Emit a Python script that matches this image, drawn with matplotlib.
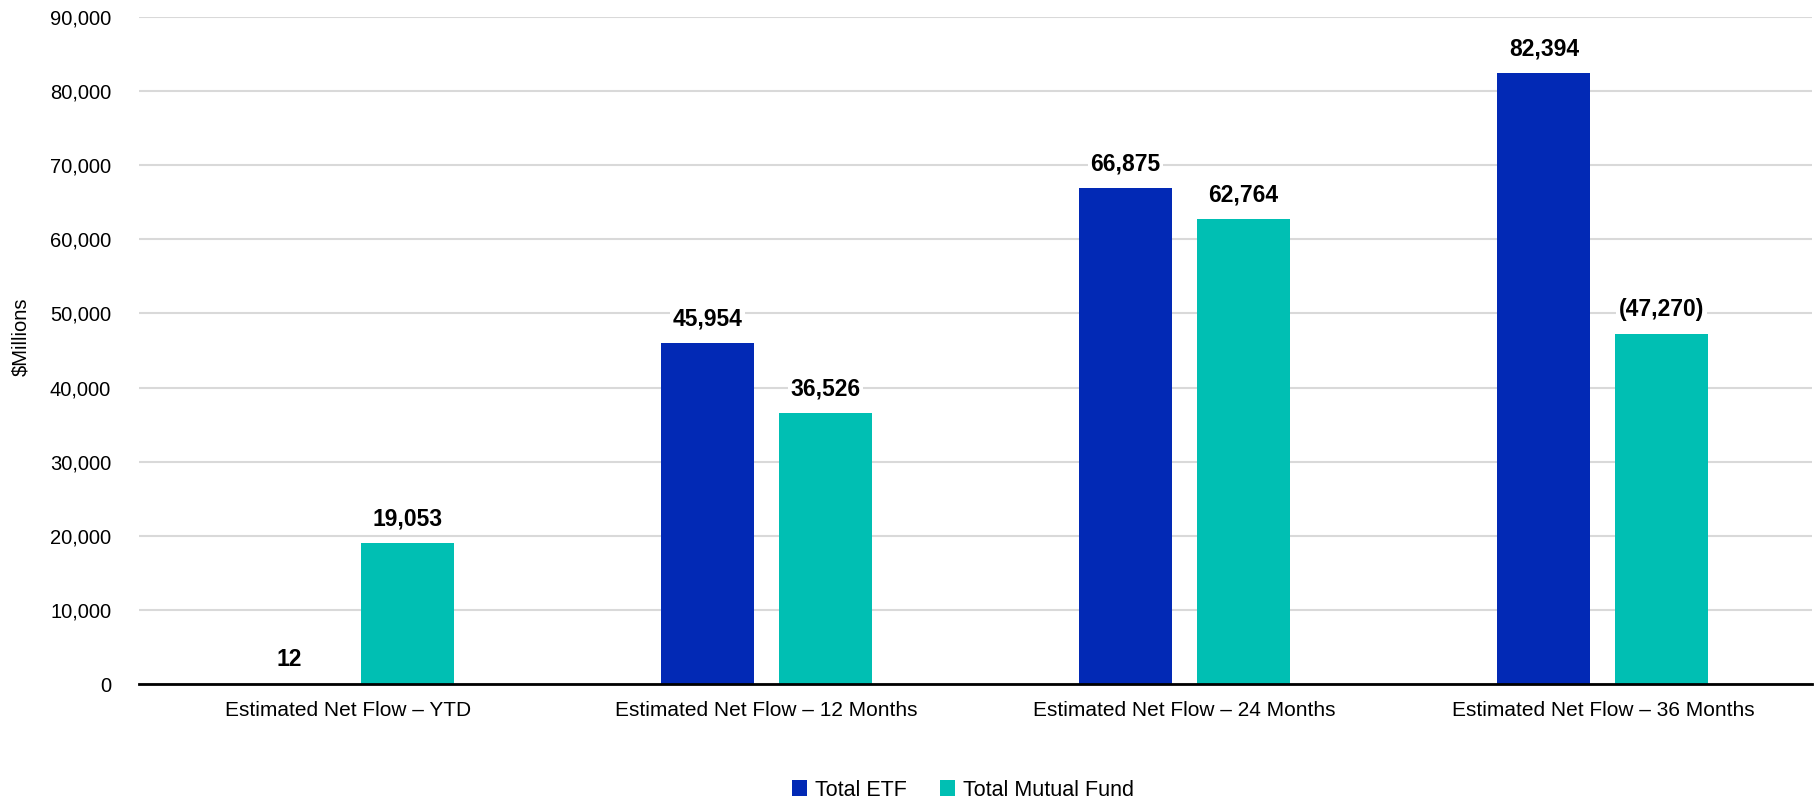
import numpy as np
import matplotlib.pyplot as plt
from matplotlib.ticker import FuncFormatter

plt.rcParams['font.family'] = ['Liberation Sans', 'DejaVu Sans']

# data
categories = ["Estimated Net Flow \u2013 YTD", "Estimated Net Flow \u2013 12 Months",
              "Estimated Net Flow \u2013 24 Months", "Estimated Net Flow \u2013 36 Months"]
etf_vals = [12, 45954, 66875, 82394]
mf_vals = [19053, 36526, 62764, 47270]
etf_labels = ["12", "45,954", "66,875", "82,394"]
mf_labels = ["19,053", "36,526", "62,764", "(47,270)"]

etf_color = "#0229B5"
mf_color = "#00BFB3"

fig = plt.figure(figsize=(18.19, 8.01), dpi=100)
ax = fig.add_axes([139 / 1819, 1 - 684 / 801, (1812 - 139) / 1819, (684 - 17) / 801])

x = np.arange(len(categories))
w = 0.222
off = 0.141
b1 = ax.bar(x - off, etf_vals, w, color=etf_color, label="Total ETF", zorder=2)
b2 = ax.bar(x + off, mf_vals, w, color=mf_color, label="Total Mutual Fund", zorder=2)

# value labels above each bar
for bars, labs in ((b1, etf_labels), (b2, mf_labels)):
    for rect, lab in zip(bars, labs):
        ax.annotate(lab, (rect.get_x() + rect.get_width() / 2, rect.get_height()),
                    xytext=(0, 9), textcoords="offset points", ha="center", va="bottom",
                    fontsize=16.5, fontweight="bold", zorder=4,
                    bbox=dict(facecolor="white", edgecolor="none", pad=2))

ax.set_xlim(-0.5, len(categories) - 0.5)
ax.set_ylim(0, 90000)
ax.set_yticks(np.arange(0, 90001, 10000))
ax.yaxis.set_major_formatter(FuncFormatter(lambda v, p: f"{int(v):,}"))
ax.set_xticks(x)
ax.set_xticklabels(categories, fontsize=15)
ax.tick_params(axis="y", labelsize=14.5, length=0, pad=20)
ax.tick_params(axis="x", length=0, pad=12)
ax.grid(axis="y", color="#D9D9D9", linewidth=1.5, zorder=0)
ax.set_axisbelow(True)
for s in ("left", "right", "top"):
    ax.spines[s].set_visible(False)
ax.spines["bottom"].set_color("black")
ax.spines["bottom"].set_linewidth(2)
ax.spines["bottom"].set_zorder(3)

fig.text(21 / 1819, 1 - 337 / 801, "$Millions", rotation=90, ha="center", va="center", fontsize=14.5)

fig.legend(loc="center", bbox_to_anchor=(963 / 1819, 1 - 790 / 801), ncol=2, frameon=False,
           fontsize=15.5, handlelength=0.7, handleheight=0.7, columnspacing=1.5, handletextpad=0.4)

fig.savefig("out.png", dpi=100)
